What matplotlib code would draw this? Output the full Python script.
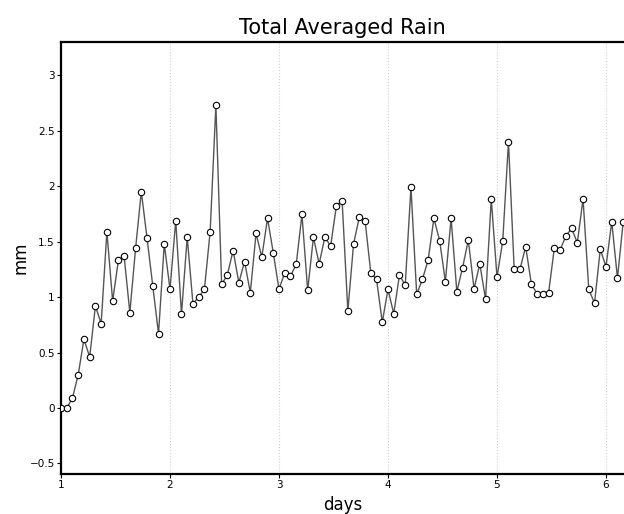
#!/usr/bin/env python3
#
# plot.py - total averaged rain vs days, points joined by a line
#

import numpy as np
import matplotlib
matplotlib.use('Agg')
import matplotlib.pyplot as plt

# rain values (mm), one every 1/19 day starting at day 1
rain = [0.00, 0.00, 0.09, 0.30, 0.62, 0.46, 0.92, 0.76, 1.59, 0.965,
        1.33, 1.37, 0.86, 1.44, 1.95, 1.53, 1.10, 0.67, 1.48, 1.07,
        1.69, 0.845, 1.54, 0.94, 1.00, 1.07, 1.59, 2.73, 1.115, 1.20,
        1.42, 1.13, 1.32, 1.04, 1.575, 1.36, 1.71, 1.40, 1.07, 1.22,
        1.19, 1.295, 1.745, 1.06, 1.54, 1.30, 1.54, 1.46, 1.82, 1.87,
        0.875, 1.48, 1.72, 1.69, 1.22, 1.16, 0.775, 1.07, 0.85, 1.20,
        1.105, 1.99, 1.025, 1.16, 1.335, 1.71, 1.51, 1.14, 1.71, 1.05,
        1.265, 1.515, 1.075, 1.30, 0.98, 1.885, 1.18, 1.505, 2.40, 1.25,
        1.25, 1.455, 1.115, 1.03, 1.025, 1.04, 1.445, 1.425, 1.55, 1.62,
        1.49, 1.885, 1.07, 0.945, 1.43, 1.275, 1.68, 1.17, 1.68]
day0 = 1.0
step = 1.0 / 19
days = day0 + step * np.arange(len(rain))

xticks = [1, 2, 3, 4, 5, 6]
yticks = [-0.5, 0, 0.5, 1, 1.5, 2, 2.5, 3]
ylabels = ['\u22120.5', '0', '0.5', '1', '1.5', '2', '2.5', '3']
ygrid = [-0.5, 0.5, 1.5, 2.5]

W, H = 624, 514
fig = plt.figure(figsize=(W / 100, H / 100), dpi=100)
ax = fig.add_axes([61 / W, 1 - 474 / H, (W - 61) / W, (474 - 42) / H])

ax.plot(days, rain, '-', color='#555555', lw=1.0, zorder=2)
ax.plot(days, rain, 'o', ms=4.6, mfc='white', mec='black', mew=0.8, zorder=3)

ax.set_xlim(1, 1 + (W - 61) / 109.0)
ax.set_ylim(-0.595, 3.30)

ax.set_xticks(xticks)
ax.set_xticklabels([str(t) for t in xticks], fontsize=7.5)
ax.set_yticks(yticks)
ax.set_yticklabels(ylabels, fontsize=7.5)
ax.set_yticks(ygrid, minor=True)
ax.tick_params(which='major', direction='out', length=3, width=0.8, pad=1.5)
ax.tick_params(which='minor', length=0)

ax.grid(True, which='major', axis='x', color='#d0d0d0', ls=':', lw=0.8)
ax.grid(True, which='minor', axis='y', color='#bbbbbb', ls=':', lw=0.8)
ax.set_axisbelow(True)

for s in ['top', 'left', 'bottom']:
    ax.spines[s].set_linewidth(1.6)
ax.spines['right'].set_visible(False)

ax.set_title('Total Averaged Rain', fontsize=15, pad=6)
ax.set_xlabel('days', fontsize=12, labelpad=4)
ax.set_ylabel('mm', fontsize=12, labelpad=0)

fig.savefig('out.png', dpi=100)
